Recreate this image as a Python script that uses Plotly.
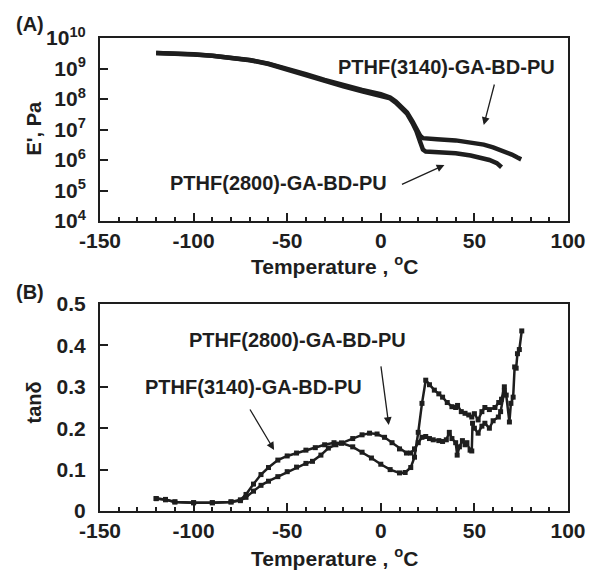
import plotly.graph_objects as go
from plotly.subplots import make_subplots

# ---------------- data ----------------
# Panel A: storage modulus E' (Pa) vs temperature (°C)
T_E_3140 = [-120, -110, -100, -90, -80, -70, -60, -50, -40, -30, -20, -10, 0, 5, 8, 11, 14, 17, 19, 21,
            22.5, 25, 30, 40, 49, 55, 60, 66, 70, 73, 75]
E_3140 = [3.24e9, 3.16e9, 2.95e9, 2.63e9, 2.29e9, 1.91e9, 1.45e9, 1.0e9, 6.5e8, 4.2e8, 2.8e8, 2.0e8, 1.45e8,
          1.12e8, 8.3e7, 5.6e7, 3.6e7, 1.8e7, 1.0e7, 6.3e6,
          5.2e6, 5.0e6, 4.8e6, 4.4e6, 3.6e6, 3.2e6, 2.6e6, 1.9e6, 1.5e6, 1.2e6, 1.05e6]

T_E_2800 = [-120, -110, -100, -90, -80, -70, -60, -50, -40, -30, -20, -10, 0, 5, 8, 11, 14, 17, 19, 21,
            22.5, 24, 30, 40, 48, 54, 58, 62, 64.5]
E_2800 = [3.2e9, 3.1e9, 2.9e9, 2.6e9, 2.25e9, 1.87e9, 1.4e9, 9.1e8, 5.8e8, 3.8e8, 2.6e8, 1.8e8, 1.3e8,
          1.05e8, 7.6e7, 5.2e7, 3.3e7, 1.6e7, 8.9e6, 4.0e6,
          2.2e6, 1.9e6, 1.8e6, 1.66e6, 1.4e6, 1.17e6, 1.0e6, 7.9e5, 5.8e5]

# Panel B: tan delta vs temperature (°C)
T_tan_3140 = [-120, -115, -110, -100, -90, -80, -75, -72, -68, -64, -60, -55, -50, -45, -40, -35, -30, -25,
              -21, -15, -10, -5, 0, 5, 10, 13, 16, 18, 20, 22, 24, 26, 28.6, 31, 33, 35.5, 38, 40, 41, 43,
              45, 47, 48.6, 50, 52, 54, 55.6, 58, 61, 63, 64.5, 66, 67, 68.7, 69.5, 70.7, 71.5, 72.3, 73,
              74, 75.3]
tan_3140 = [0.030, 0.028, 0.022, 0.020, 0.020, 0.022, 0.027, 0.040, 0.065, 0.088, 0.105, 0.123, 0.133,
            0.140, 0.147, 0.153, 0.160, 0.165, 0.164, 0.155, 0.142, 0.128, 0.113, 0.100, 0.092, 0.093,
            0.105, 0.130, 0.190, 0.260, 0.316, 0.305, 0.292, 0.283, 0.275, 0.262, 0.252, 0.250, 0.255,
            0.240, 0.236, 0.232, 0.227, 0.235, 0.220, 0.240, 0.250, 0.245, 0.250, 0.262, 0.270, 0.300,
            0.280, 0.215, 0.260, 0.275, 0.348, 0.345, 0.380, 0.390, 0.435]

T_tan_2800 = [-120, -115, -110, -100, -90, -80, -75, -72, -68, -64, -60, -55, -50, -45, -40, -36.5, -32,
              -28, -24, -21, -15, -10, -6, -2, 2, 6, 10, 13.7, 16, 18, 20, 22, 24, 26, 28, 31, 33, 35,
              36.6, 38, 40, 40.8, 42, 43.6, 45, 46, 47.7, 48.6, 49, 50, 52, 54, 55.6, 58, 60, 62.8, 64,
              66]
tan_2800 = [0.030, 0.027, 0.022, 0.020, 0.020, 0.022, 0.025, 0.033, 0.048, 0.062, 0.072, 0.083, 0.095,
            0.106, 0.115, 0.120, 0.135, 0.152, 0.160, 0.164, 0.175, 0.184, 0.188, 0.186, 0.178, 0.165,
            0.150, 0.140, 0.140, 0.150, 0.165, 0.178, 0.180, 0.175, 0.172, 0.170, 0.168, 0.172, 0.190,
            0.175, 0.165, 0.135, 0.155, 0.170, 0.160, 0.165, 0.147, 0.145, 0.212, 0.200, 0.188, 0.205,
            0.212, 0.200, 0.218, 0.227, 0.240, 0.290]

x_ticks = [-150, -100, -50, 0, 50, 100]
x_ticktext = ["-150", "-100", "-50", "0", "50", "100"]
E_tickvals = [1e4, 1e5, 1e6, 1e7, 1e8, 1e9, 1e10]
E_ticktext = ["10<sup>4</sup>", "10<sup>5</sup>", "10<sup>6</sup>", "10<sup>7</sup>",
              "10<sup>8</sup>", "10<sup>9</sup>", "10<sup>10</sup>"]
tan_ticks = [0, 0.1, 0.2, 0.3, 0.4, 0.5]
tan_ticktext = ["0", "0.1", "0.2", "0.3", "0.4", "0.5"]

# ---------------- figure ----------------
FONT = "Liberation Sans, Arial, sans-serif"
INK = "#1e1e1e"

fig = make_subplots(rows=2, cols=1, vertical_spacing=0.0)

line_top = dict(color=INK, width=4.5)
fig.add_trace(go.Scatter(x=T_E_3140, y=E_3140, mode="lines", line=line_top, showlegend=False), row=1, col=1)
fig.add_trace(go.Scatter(x=T_E_2800, y=E_2800, mode="lines", line=line_top, showlegend=False), row=1, col=1)

line_bot = dict(color=INK, width=2.5)
mk = dict(color=INK, size=5, symbol="square")
fig.add_trace(go.Scatter(x=T_tan_3140, y=tan_3140, mode="lines+markers", line=line_bot, marker=mk,
                         showlegend=False), row=2, col=1)
fig.add_trace(go.Scatter(x=T_tan_2800, y=tan_2800, mode="lines+markers", line=line_bot, marker=mk,
                         showlegend=False), row=2, col=1)

tickfont = dict(family=FONT, size=21, color=INK, weight="bold")
common_x = dict(range=[-150, 100], tickvals=x_ticks, ticktext=x_ticktext, ticks="inside", ticklen=8,
                tickwidth=2, tickcolor=INK, showline=True, linewidth=2, linecolor=INK, mirror=True,
                showgrid=False, zeroline=False, tickfont=tickfont,
                minor=dict(dtick=10, tick0=-150, ticks="inside", ticklen=4, tickwidth=1.5, tickcolor=INK))
fig.update_xaxes(**common_x)
fig.update_xaxes(domain=[0, 1])

fig.update_yaxes(type="log", range=[4, 10], tickvals=E_tickvals, ticktext=E_ticktext, ticks="inside",
                 ticklen=8, tickwidth=2, tickcolor=INK, showline=True, linewidth=2, linecolor=INK,
                 mirror=True, showgrid=False, zeroline=False, tickfont=tickfont, ticklabelstandoff=8,
                 domain=[0.6131, 1.0], row=1, col=1)
fig.update_yaxes(range=[0, 0.5], tickvals=tan_ticks, ticktext=tan_ticktext, ticks="inside",
                 ticklen=8, tickwidth=2, tickcolor=INK, showline=True, linewidth=2, linecolor=INK,
                 mirror=True, showgrid=False, zeroline=False, tickfont=tickfont, ticklabelstandoff=8,
                 domain=[0.0, 0.4376], row=2, col=1)

labfont = dict(family=FONT, size=20, color=INK, weight="bold")
titlefont = dict(family=FONT, size=21, color=INK, weight="bold")

def txt(text, x, y, font=labfont, angle=0):
    return dict(text=text, x=x, y=y, xref="paper", yref="paper", showarrow=False, font=font,
                xanchor="center", yanchor="middle", textangle=angle)

annotations = [
    txt("(A)", -0.1506, 1.0296),
    txt("(B)", -0.1506, 0.463),
    txt("E', Pa", -0.142, 0.8097, angle=-90),
    txt("tanδ", -0.140, 0.2304, angle=-90),
    txt("Temperature , <sup>o</sup>C", 0.502, 0.520, font=titlefont),
    txt("Temperature , <sup>o</sup>C", 0.502, -0.097, font=titlefont),
    txt("PTHF(3140)-GA-BD-PU", 0.7406, 0.9387),
    txt("PTHF(2800)-GA-BD-PU", 0.381, 0.6934),
    txt("PTHF(2800)-GA-BD-PU", 0.4226, 0.3615),
    txt("PTHF(3140)-GA-BD-PU", 0.3285, 0.262),
]
arrow = dict(text="", xref="paper", yref="paper", showarrow=True, arrowhead=2, arrowsize=1.2,
             arrowwidth=1.3, arrowcolor=INK)
for (hx, hy, ax, ay) in [(0.820, 0.816, 11, -42), (0.736, 0.7315, -44, 20),
                         (0.617, 0.182, -8, -60), (0.372, 0.129, -25, -42)]:
    a = dict(arrow)
    a.update(x=hx, y=hy, ax=ax, ay=ay)
    annotations.append(a)

fig.update_layout(width=598, height=570, margin=dict(l=100, r=20, t=38, b=59),
                  paper_bgcolor="white", plot_bgcolor="white", annotations=annotations,
                  font=dict(family=FONT, color=INK))

fig.write_html("out.html")
